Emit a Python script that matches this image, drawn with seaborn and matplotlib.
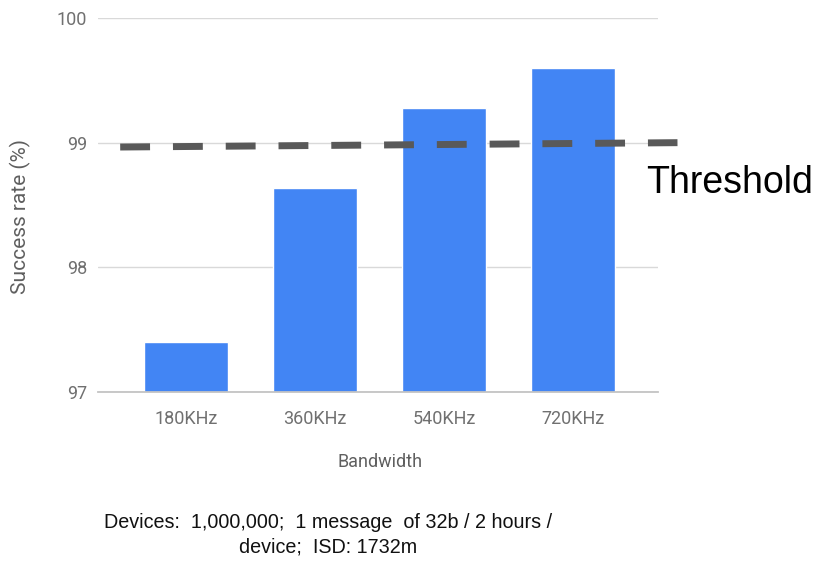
import matplotlib
matplotlib.use("Agg")
import matplotlib.pyplot as plt
import seaborn as sns
import pandas as pd

categories = ["180KHz", "360KHz", "540KHz", "720KHz"]
success_rate = [97.4, 98.64, 99.28, 99.6]
yticks = [97, 98, 99, 100]
threshold_x = [-0.51, 3.81]
threshold_y = [98.965, 99.0]
xlabel = "Bandwidth"
ylabel = "Success rate (%)"
threshold_label = "Threshold"
caption = "Devices:  1,000,000;  1 message  of 32b / 2 hours /\ndevice;  ISD: 1732m"

df = pd.DataFrame({"Bandwidth": categories, "Success": success_rate})

sns.set_theme(style="white")
plt.rcParams["font.family"] = ["Roboto", "DejaVu Sans"]

fig = plt.figure(figsize=(8.16, 5.63), dpi=100)
ax = fig.add_axes([98 / 816, 1 - 392 / 563, 560 / 816, 374 / 563])

sns.barplot(data=df, x="Bandwidth", y="Success", color="#4285F4",
            saturation=1, width=0.65, ax=ax, zorder=3)
ax.set_ylim(97, 100)
ax.set_xlim(-0.682, 3.659)
ax.set_yticks(yticks)
ax.set_yticklabels([str(v) for v in yticks])
ax.grid(axis="y", color="#d9d9d9", linewidth=1, zorder=0)
ax.set_axisbelow(True)
for s in ["top", "right", "left"]:
    ax.spines[s].set_visible(False)
ax.spines["bottom"].set_color("#c4c4c4")
ax.spines["bottom"].set_linewidth(1.3)
ax.spines["bottom"].set_zorder(4)
ax.tick_params(axis="both", length=0, labelsize=13, colors="#707070")
ax.tick_params(axis="x", pad=13)
ax.tick_params(axis="y", pad=8)

ax.set_xlabel(xlabel, fontsize=13, color="#5f5f5f")
ax.xaxis.set_label_coords(0.504, -0.163)
ax.xaxis.label.set_va("top")
ax.set_ylabel(ylabel, fontsize=15, color="#5f5f5f")
ax.yaxis.set_label_coords(-0.12, 0.468)

ax.plot(threshold_x, threshold_y, color="#595959", linewidth=5,
        dashes=(4.3, 3.3), solid_capstyle="butt", dash_capstyle="butt",
        clip_on=False, zorder=5)

fig.text(646 / 816, 1 - 183 / 563, threshold_label, fontsize=27,
         family=["Liberation Sans", "DejaVu Sans"], color="#000000",
         ha="left", va="center")
fig.text(328 / 816, 1 - 535 / 563, caption, fontsize=14.2,
         family=["Liberation Sans", "DejaVu Sans"], color="#111111",
         ha="center", va="center", linespacing=1.35, multialignment="center")

fig.savefig("out.png", dpi=100)
